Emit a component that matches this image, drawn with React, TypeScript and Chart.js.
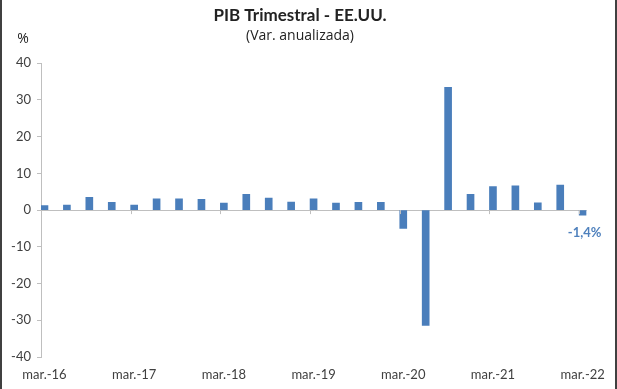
import React, { useEffect, useRef } from "react";
import { Chart, registerables } from "chart.js";

Chart.register(...registerables);

const quarters = [
  "mar.-16", "jun.-16", "sep.-16", "dic.-16",
  "mar.-17", "jun.-17", "sep.-17", "dic.-17",
  "mar.-18", "jun.-18", "sep.-18", "dic.-18",
  "mar.-19", "jun.-19", "sep.-19", "dic.-19",
  "mar.-20", "jun.-20", "sep.-20", "dic.-20",
  "mar.-21", "jun.-21", "sep.-21", "dic.-21",
  "mar.-22",
];

const gdpGrowth = [
  1.2, 1.4, 3.5, 2.1,
  1.4, 3.1, 3.1, 2.9,
  1.9, 4.3, 3.3, 2.2,
  3.1, 1.9, 2.1, 2.1,
  -5.0, -31.4, 33.4, 4.3,
  6.4, 6.6, 2.0, 6.8,
  -1.4,
];

const xTickIndices = [0, 4, 8, 12, 16, 20, 24];
const yTickMin = -40;
const yTickMax = 40;
const yTickStep = 10;

const titleText = "PIB Trimestral - EE.UU.";
const subtitleText = "(Var. anualizada)";
const unitText = "%";

const BAR_COLOR = "#4a7ebb";
const LABEL_COLOR = "#4f81bd";
const AXIS_COLOR = "#bfbfbf";
const TEXT_COLOR = "#404040";
const FONT = "Lato, 'Open Sans', sans-serif";
const SUB_FONT = "'Open Sans', Lato, sans-serif";
const BAR_W = 7;

export default function App() {
  const ref = useRef<HTMLCanvasElement | null>(null);

  useEffect(() => {
    document.body.style.margin = "0";
    const canvas = ref.current;
    if (!canvas) return;

    const decorPlugin = {
      id: "decor",
      afterDatasetsDraw(chart: any) {
        const { ctx, chartArea, scales } = chart;
        const xs = scales.x;
        const ys = scales.y;
        const y0 = ys.getPixelForValue(0);
        ctx.save();
        ctx.strokeStyle = AXIS_COLOR;
        ctx.lineWidth = 1;
        xTickIndices.forEach((i) => {
          const px = Math.round(xs.getPixelForValue(i) - BAR_W / 2) + 0.5;
          ctx.beginPath();
          ctx.moveTo(px, y0);
          ctx.lineTo(px, y0 + 4);
          ctx.stroke();
        });
        ctx.fillStyle = "#222";
        ctx.font = `14px ${SUB_FONT}`;
        ctx.textAlign = "center";
        ctx.textBaseline = "middle";
        ctx.fillText(unitText, chartArea.left - 18, chartArea.top - 24);
        const last = gdpGrowth.length - 1;
        const v = gdpGrowth[last];
        const lx = xs.getPixelForValue(last);
        const ly = ys.getPixelForValue(Math.min(v, 0));
        ctx.fillStyle = LABEL_COLOR;
        ctx.font = `bold 13px ${FONT}`;
        ctx.fillText(v.toFixed(1).replace(".", ",") + "%", lx + 2, ly + 18);
        ctx.restore();
      },
    };

    const chart = new Chart(canvas, {
      type: "bar",
      data: {
        datasets: [
          {
            data: gdpGrowth.map((v, i) => ({ x: i, y: v })),
            backgroundColor: BAR_COLOR,
            borderWidth: 0,
            barThickness: BAR_W,
          },
        ],
      },
      options: {
        responsive: false,
        animation: false,
        layout: { padding: { left: 6, right: 23, top: 0, bottom: 0 } },
        plugins: {
          legend: { display: false },
          tooltip: { enabled: false },
          title: {
            display: true,
            text: titleText,
            color: "#222",
            font: { family: FONT, size: 17, weight: "bold" },
            padding: { top: 5, bottom: 0 },
          },
          subtitle: {
            display: true,
            text: subtitleText,
            color: "#222",
            font: { family: SUB_FONT, size: 14 },
            padding: { top: 2, bottom: 19 },
          },
        },
        scales: {
          x: {
            type: "linear",
            offset: false,
            min: -0.155,
            max: 24.18,
            grid: { display: false, drawTicks: false },
            border: { display: false },
            afterBuildTicks: (scale: any) => {
              scale.ticks = xTickIndices.map((v) => ({ value: v }));
            },
            afterFit: (scale: any) => {
              scale.height = 32;
            },
            ticks: {
              autoSkip: false,
              maxRotation: 0,
              padding: 10,
              color: TEXT_COLOR,
              font: { family: FONT, size: 13 },
              callback: (value: any) => quarters[value as number] ?? "",
            },
          },
          y: {
            min: yTickMin,
            max: yTickMax,
            afterFit: (scale: any) => {
              scale.width = 33;
            },
            ticks: {
              stepSize: yTickStep,
              padding: 6,
              color: TEXT_COLOR,
              font: { family: FONT, size: 13 },
              callback: (value: any) => String(value),
            },
            grid: {
              color: (c: any) => (c.tick && c.tick.value === 0 ? AXIS_COLOR : "transparent"),
              tickColor: AXIS_COLOR,
              tickLength: 4,
              drawTicks: true,
            },
            border: { display: true, color: AXIS_COLOR },
          },
        },
      } as any,
      plugins: [decorPlugin],
    });

    return () => chart.destroy();
  }, []);

  return (
    <div
      style={{
        width: 617,
        height: 389,
        boxSizing: "border-box",
        borderLeft: "2px solid #404040",
        borderRight: "2px solid #404040",
        background: "#fff",
      }}
    >
      <canvas ref={ref} width={613} height={389} style={{ display: "block" }} />
    </div>
  );
}
